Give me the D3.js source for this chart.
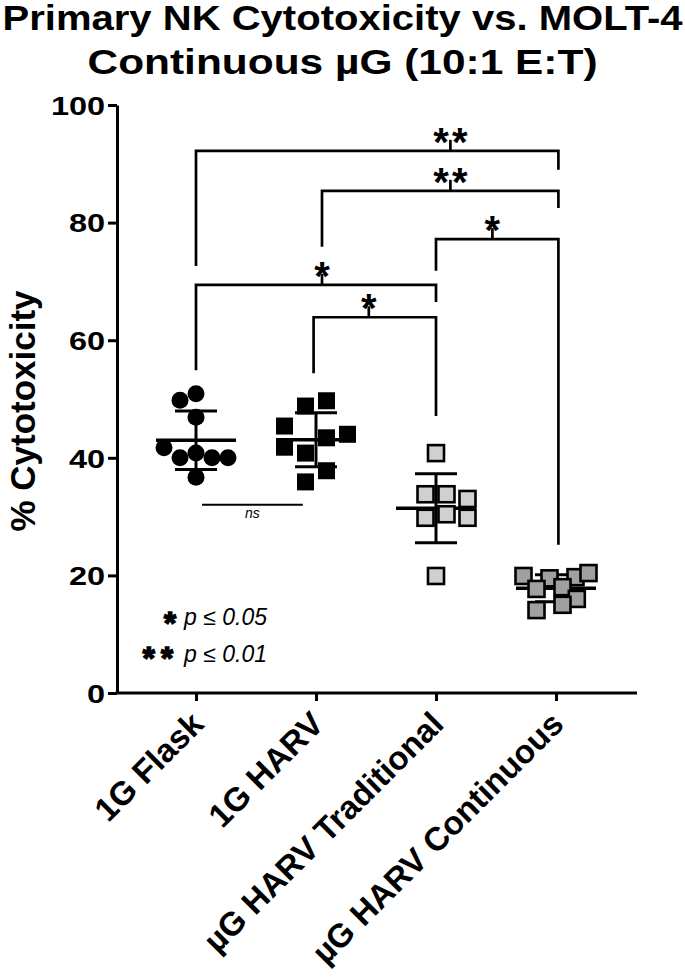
<!DOCTYPE html>
<html>
<head>
<meta charset="utf-8">
<script src="https://cdn.jsdelivr.net/npm/d3@7"></script>
<style>
body{margin:0;background:#fff;}
svg{display:block;font-family:"Liberation Sans",Arial,sans-serif;}
</style>
</head>
<body>
<svg id="vis" width="685" height="978"></svg>
<script>
// data
var groups = ["1G Flask", "1G HARV", "µG HARV Traditional", "µG HARV Continuous"];
var flask = [49.8, 50.9, 46.9, 41.7, 40.8, 40, 40, 40, 36.7];
var harv  = [48.8, 49.7, 45.4, 43.4, 41.8, 40.8, 37.8, 35.9, 44];
var trad  = [40.8, 33.8, 33.8, 33, 29.8, 30.4, 29.8, 19.9];
var cont  = [19.9, 19.5, 19.7, 20.4, 17.7, 18.0, 16, 15, 14.1];
var yTicks = [0, 20, 40, 60, 80, 100];

// significance brackets: a/b = group index of legs, y = bar height, ya/yb = leg ends, lx = where the star sits
var comparisons = [
    {a: 0,    b: 3.02, y: 92.2, ya: 72.6, yb: 89.0, lx: 2.12, label: "**"},
    {a: 1.05, b: 3.02, y: 85.4, ya: 75.9, yb: 82.5, lx: 2.12, label: "**"},
    {a: 2,    b: 3.02, y: 77.2, ya: 71.8, yb: 25.2, lx: 2.47, label: "*"},
    {a: 0,    b: 2,    y: 69.4, ya: 54.9, yb: 66.5, lx: 1.05, label: "*"},
    {a: 0.98, b: 2,    y: 63.9, ya: 54.4, yb: 47.1, lx: 1.44, label: "*"}
];
var nsLine = {a: 0.05, b: 0.89, y: 32, label: "ns"};
var legendRows = [{stars: "*", text: "p ≤ 0.05"}, {stars: "**", text: "p ≤ 0.01"}];

// layout / style
var series = [flask, harv, trad, cont];
var shapes = ["circle", "square", "square", "square"];
var fills = ["#000", "#000", "#d0d0d0", "#a0a0a0"];
var cols = [
    [-1, 0, 0, -2, 0, -1, 1, 2, 0],
    [-0.5, 0.5, -1.5, 0.5, -1.5, -0.5, 0.5, -0.5, 1.5],
    [0, -0.5, 0.5, 1.5, -0.5, 0.5, 1.5, 0],
    [-2.5, -0.5, 1.5, 2.5, -1.5, 0.5, 1.6, 0.5, -1.5]
];
var colStep = [16, 21, 21, 13];

var svg = d3.select('#vis');
var axisX = 117, axisRight = 637;

var y = d3.scaleLinear().domain([0, 100]).range([693, 105]);
var x = d3.scalePoint().domain(groups).range([196, 556]);
var xi = d3.scaleLinear().domain([0, 3]).range([196, 556]);

// title (stretched to the width the original uses)
var title = ["Primary NK Cytotoxicity vs. MOLT-4", "Continuous µG (10:1 E:T)"];
var titleWidth = [680, 510];
title.forEach(function(t, i){
    svg.append('g')
        .attr('transform', 'translate(342.5,' + (29.5 + i*44) + ') scale(1,1.04)')
        .append('text')
        .attr('text-anchor', 'middle')
        .attr('textLength', titleWidth[i])
        .attr('lengthAdjust', 'spacingAndGlyphs')
        .style('font-size', '33.5px')
        .style('font-weight', 'bold')
        .text(t);
});

// y label
svg.append('text')
    .attr('transform', 'translate(35,411) rotate(-90)')
    .attr('text-anchor', 'middle')
    .style('font-size', '35px')
    .style('font-weight', 'bold')
    .text('% Cytotoxicity');

// y axis
var yAxis = svg.append('g')
    .attr('transform', 'translate(' + axisX + ',0)')
    .call(d3.axisLeft(y).tickValues(yTicks).tickSize(9).tickSizeOuter(0));
yAxis.select('.domain').attr('stroke-width', 3);
yAxis.selectAll('.tick line').attr('stroke-width', 3);
yAxis.selectAll('text')
    .attr('x', -9.5)
    .attr('dy', '0.36em')
    .attr('transform', 'scale(1.25,1)')
    .attr('fill', '#000')
    .style('font-size', '26px')
    .style('font-weight', 'bold')
    .style('font-family', '"Liberation Sans",Arial,sans-serif');

// x axis
svg.append('line')
    .attr('x1', axisX - 1.5).attr('x2', axisRight)
    .attr('y1', y(0)).attr('y2', y(0))
    .attr('stroke', '#000').attr('stroke-width', 3);
var xAxis = svg.append('g')
    .attr('transform', 'translate(0,' + y(0) + ')')
    .call(d3.axisBottom(x).tickSize(8));
xAxis.select('.domain').remove();
xAxis.selectAll('.tick line').attr('stroke-width', 3);
xAxis.selectAll('text')
    .attr('y', 0).attr('dy', 0)
    .attr('transform', 'translate(9,33) rotate(-45)')
    .attr('text-anchor', 'end')
    .attr('fill', '#000')
    .style('font-size', '33px')
    .style('font-weight', 'bold')
    .style('font-family', '"Liberation Sans",Arial,sans-serif');

// mean and SD bars
var stats = series.map(function(s, i){
    return {i: i, mean: d3.mean(s), sd: d3.deviation(s)};
});
var errG = svg.append('g').attr('class', 'errors').attr('stroke', '#000');
stats.forEach(function(d){
    var cx = xi(d.i);
    errG.append('line')
        .attr('x1', cx - 40).attr('x2', cx + 40)
        .attr('y1', y(d.mean)).attr('y2', y(d.mean))
        .attr('stroke-width', 3.5);
    errG.append('line')
        .attr('x1', cx).attr('x2', cx)
        .attr('y1', y(d.mean + d.sd)).attr('y2', y(d.mean - d.sd))
        .attr('stroke-width', 3);
    [d.mean + d.sd, d.mean - d.sd].forEach(function(v){
        errG.append('line')
            .attr('x1', cx - 21).attr('x2', cx + 21)
            .attr('y1', y(v)).attr('y2', y(v))
            .attr('stroke-width', 3);
    });
});

// points
series.forEach(function(s, i){
    var g = svg.append('g').attr('class', 'pts-' + i);
    var px = function(d, j){ return xi(i) + cols[i][j]*colStep[i]; };
    if (shapes[i] == "circle"){
        g.selectAll('circle').data(s).enter().append('circle')
            .attr('cx', px)
            .attr('cy', function(d){ return y(d); })
            .attr('r', 8.5)
            .attr('fill', fills[i]);
    } else {
        var outlined = fills[i] != "#000";
        var sz = outlined ? 16 : 17;
        g.selectAll('rect').data(s).enter().append('rect')
            .attr('x', function(d, j){ return px(d, j) - sz/2; })
            .attr('y', function(d){ return y(d) - sz/2; })
            .attr('width', sz).attr('height', sz)
            .attr('fill', fills[i])
            .attr('stroke', outlined ? '#000' : 'none')
            .attr('stroke-width', 2.6);
    }
});

// brackets
var brG = svg.append('g').attr('class', 'brackets');
comparisons.forEach(function(c){
    var yb = y(c.y);
    brG.append('path')
        .attr('d', 'M' + xi(c.a) + ',' + y(c.ya) + 'V' + yb + 'H' + xi(c.b) + 'V' + y(c.yb))
        .attr('fill', 'none')
        .attr('stroke', '#000')
        .attr('stroke-width', 2.7);
    brG.append('line')
        .attr('x1', xi(c.lx)).attr('x2', xi(c.lx))
        .attr('y1', yb).attr('y2', yb - 11)
        .attr('stroke', '#000')
        .attr('stroke-width', 2.7);
    brG.append('text')
        .attr('x', xi(c.lx) + (c.label.length - 1)*1.5)
        .attr('y', yb + 5)
        .attr('text-anchor', 'middle')
        .style('font-size', '40px')
        .style('font-weight', 'bold')
        .style('letter-spacing', (c.label.length > 1 ? 3 : 0) + 'px')
        .text(c.label);
});

// ns line
brG.append('line')
    .attr('x1', xi(nsLine.a)).attr('x2', xi(nsLine.b))
    .attr('y1', y(nsLine.y)).attr('y2', y(nsLine.y))
    .attr('stroke', '#000')
    .attr('stroke-width', 2);
brG.append('text')
    .attr('x', (xi(nsLine.a) + xi(nsLine.b))/2)
    .attr('y', y(nsLine.y) + 13)
    .attr('text-anchor', 'middle')
    .style('font-size', '14px')
    .style('font-style', 'italic')
    .text(nsLine.label);

// p-value key (smaller star font, thickened with a stroke so rows don't collide)
var legend = svg.append('g').attr('transform', 'translate(0,625)');
legendRows.forEach(function(r, i){
    legend.append('text')
        .attr('x', 176 + (r.stars.length - 1)*3)
        .attr('y', i*35 + 9)
        .attr('text-anchor', 'end')
        .attr('stroke', '#000')
        .attr('stroke-width', 1.6)
        .style('font-size', '31px')
        .style('font-weight', 'bold')
        .style('letter-spacing', (r.stars.length > 1 ? 6 : 0) + 'px')
        .text(r.stars);
    legend.append('text')
        .attr('x', 184)
        .attr('y', i*37)
        .style('font-size', '23px')
        .style('font-style', 'italic')
        .text(r.text);
});
</script>
</body>
</html>
